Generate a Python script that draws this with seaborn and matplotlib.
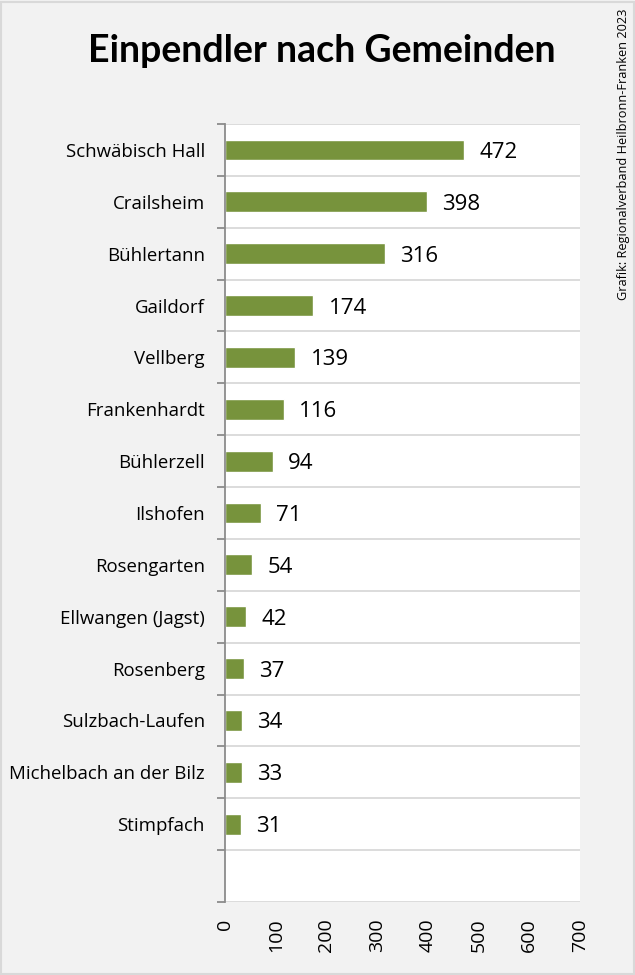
import matplotlib
matplotlib.use("Agg")
import matplotlib.pyplot as plt
import seaborn as sns
import pandas as pd
from matplotlib.patches import Rectangle
from matplotlib.ticker import FixedLocator

gemeinden = ["Schwäbisch Hall", "Crailsheim", "Bühlertann", "Gaildorf", "Vellberg",
             "Frankenhardt", "Bühlerzell", "Ilshofen", "Rosengarten", "Ellwangen (Jagst)",
             "Rosenberg", "Sulzbach-Laufen", "Michelbach an der Bilz", "Stimpfach"]
einpendler = [472, 398, 316, 174, 139, 116, 94, 71, 54, 42, 37, 34, 33, 31]
x_ticks = [0, 100, 200, 300, 400, 500, 600, 700]
title = "Einpendler nach Gemeinden"
source = "Grafik: Regionalverband Heilbronn-Franken 2023"

sns.set_theme(style="white")
plt.rcParams['font.family'] = ['Open Sans', 'DejaVu Sans']
plt.rcParams['text.color'] = 'black'

df = pd.DataFrame({"Gemeinde": gemeinden, "Einpendler": einpendler})

fig = plt.figure(figsize=(6.35, 9.75), dpi=100)
fig.patch.set_facecolor("#f2f2f2")
ax = fig.add_axes([225/635, 1-902/975, (580-225)/635, (902-124)/975])
ax.set_facecolor("white")

sns.barplot(data=df, x="Einpendler", y="Gemeinde", color="#77933c", width=0.4,
            saturation=1, ax=ax, zorder=3)

ax.set_xlim(0, 700)
ax.set_ylim(len(gemeinden) + 0.5, -0.5)
ax.set_xlabel("")
ax.set_ylabel("")

for sp in ["top", "right", "bottom"]:
    ax.spines[sp].set_visible(False)
ax.spines["left"].set_color("#8c8c8c")
ax.spines["left"].set_linewidth(1.3)
ax.spines["left"].set_zorder(4)

bounds = [i - 0.5 for i in range(len(gemeinden) + 2)]
ax.yaxis.set_minor_locator(FixedLocator(bounds))
ax.tick_params(axis="y", which="major", length=0, pad=14.5, labelsize=13.4, labelcolor="black")
ax.tick_params(axis="y", which="minor", length=6, width=1.3, color="#8c8c8c", left=True)
for b in bounds:
    ax.axhline(b, color="#d9d9d9", lw=1.3, zorder=1)

ax.set_xticks(x_ticks)
ax.set_xticklabels([str(t) for t in x_ticks], rotation=90, fontsize=14, color="black")
ax.tick_params(axis="x", length=0, pad=12)
ax.grid(False)

for i, v in enumerate(einpendler):
    ax.text(v + 30, i, str(v), va="center_baseline", ha="left", fontsize=16,
            color="black", zorder=5)

fig.text(322/635, 1-51/975, title, ha="center", va="center", fontsize=27, fontweight="bold",
         family=["Lato", "DejaVu Sans"], color="black")
fig.text(624/635, 1-9/975, source, ha="center", va="top", rotation=90, fontsize=9.2,
         color="black")

fig.patches.append(Rectangle((0.001, 0.001), 0.997, 0.997, transform=fig.transFigure,
                             fill=False, edgecolor="#d9d9d9", lw=1.5))

fig.savefig("out.png", dpi=100, facecolor=fig.get_facecolor())
